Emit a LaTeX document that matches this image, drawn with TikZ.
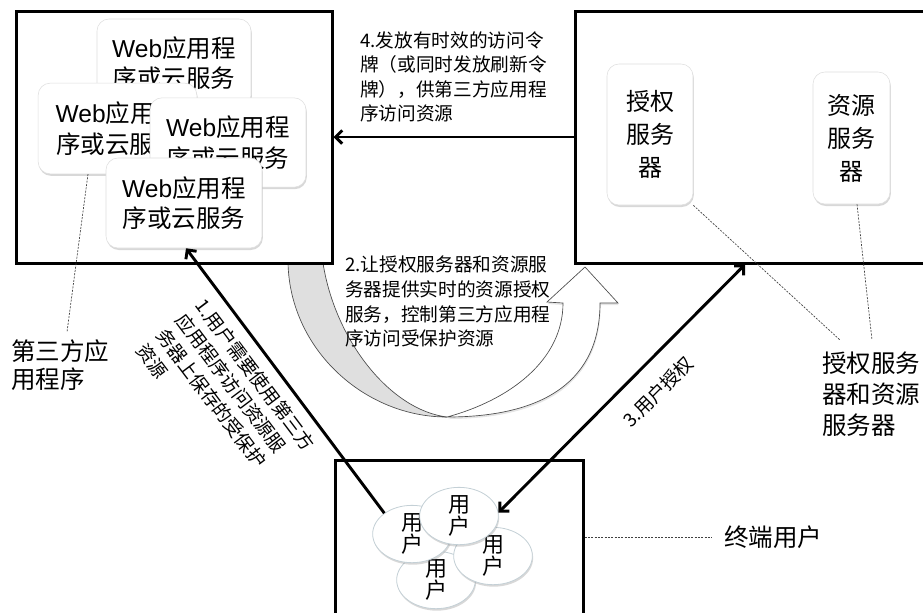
\documentclass[tikz,border=0pt]{standalone}
\usepackage{fontspec}
\setmainfont{Noto Sans CJK SC}
\newfontfamily\lat{Liberation Sans}
\usetikzlibrary{arrows.meta,shadows,shapes.geometric,calc}
\begin{document}
\begin{tikzpicture}[x=0.75pt,y=-0.75pt,
  bigframe/.style={draw, line width=2.25pt, inner sep=0pt},
  webbox/.style={draw=gray!25, fill=white, rounded corners=9pt,
    drop shadow={shadow xshift=0.6pt,shadow yshift=-1.5pt,opacity=0.3},
    align=center, inner sep=0pt, font=\fontsize{18.4pt}{23pt}\selectfont},
  srvbox/.style={webbox, font=\fontsize{18pt}{24.75pt}\selectfont},
  userell/.style={ellipse, draw=cyan!20!gray!45, fill=white, line width=0.6pt,
    drop shadow={shadow xshift=0.6pt,shadow yshift=-1.5pt,opacity=0.3},
    inner sep=0pt, minimum width=59pt, minimum height=43pt},
  utext/.style={align=center, inner sep=0pt, font=\fontsize{16.5pt}{16.5pt}\selectfont},
  arrw/.style={line width=2.2pt, -{Straight Barb[length=5pt,width=10pt]}},
  darrw/.style={line width=2.2pt, {Straight Barb[length=5pt,width=10pt]}-{Straight Barb[length=5pt,width=10pt]}},
  calloutln/.style={draw=black!75, line width=0.5pt, dash pattern=on 1.5pt off 1pt},
  notetxt/.style={align=left, inner sep=0pt, font=\fontsize{14pt}{18.4pt}\selectfont},
  biglbl/.style={align=left, inner sep=0pt, font=\fontsize{18.4pt}{23pt}\selectfont},
]
\useasboundingbox (0,0) rectangle (923,612);
\clip (0,0) rectangle (923,612);
\fill[white] (0,0) rectangle (923,612);

% curved arrow, back (grey) part
\draw[fill=gray!25, draw=black!70, line width=0.5pt]
  (288,263) .. controls (290,350) and (365,417) .. (447,417)
  .. controls (390,410) and (335,340) .. (323,263) -- cycle;

% frames
\node[bigframe, minimum width=237pt, minimum height=189pt] (lbox) at (174,137) {};
\node[bigframe, minimum width=270pt, minimum height=189pt] (rbox) at (755,137) {};
\node[bigframe, minimum width=186pt, minimum height=127.5pt] (bbox) at (459,545) {};

% web app boxes
\node[webbox, minimum width=115.5pt, minimum height=66pt] (w1) at (174,63) {{\lat Web}应用程\\序或云服务};
\node[webbox, minimum width=119pt, minimum height=68pt] (w2) at (117.5,128.5) {{\lat Web}应用程\\序或云服务};
\node[webbox, minimum width=117pt, minimum height=67pt] (w3) at (228,142.5) {{\lat Web}应用程\\序或云服务};
\node[webbox, minimum width=117pt, minimum height=67.5pt] (w4) at (184,203) {{\lat Web}应用程\\序或云服务};

% servers
\node[srvbox, minimum width=64.5pt, minimum height=105.75pt] (as) at (650,134.5) {授权\\服务\\器};
\node[srvbox, minimum width=57.75pt, minimum height=99pt] (rs) at (851.5,138) {资源\\服务\\器};

% curved arrow, front (white) part
\draw[fill=white, draw=black!70, line width=0.5pt,
  drop shadow={shadow xshift=0.5pt,shadow yshift=-1.5pt,opacity=0.2}]
  (447,417) .. controls (545,417) and (600,380) .. (600,303)
  -- (618,303) -- (585,267) -- (547,302) -- (563,303)
  .. controls (563,360) and (510,400) .. (447,417) -- cycle;

% users
\node[userell] (uD) at (436,580) {};
\node[utext] (tD) at (uD) {用\\户};
\node[userell] (uC) at (493,556) {};
\node[utext] (tC) at (uC) {用\\户};
\node[userell] (uA) at (412,534) {};
\node[utext] (tA) at (uA) {用\\户};
\node[userell] (uB) at (459,516) {};
\node[utext] (tB) at (uB) {用\\户};

% arrows
\draw[arrw] (rbox.west) -- (lbox.east);
\draw[arrw] (uA.143) -- (w4.south -| 186,0);
\draw[darrw] (uB.5) -- (rbox.south -| 745,0);

% texts
\node[notetxt, anchor=north west] (t4) at (360,31) {4.发放有时效的访问令\\牌（或同时发放刷新令\\牌），供第三方应用程\\序访问资源};
\node[notetxt, anchor=north west] (t2) at (345,256) {2.让授权服务器和资源服\\务器提供实时的资源授权\\服务，控制第三方应用程\\序访问受保护资源};
\node[notetxt, rotate=-53] (t1) at (226,397) {1.用户需要使用第三方\\应用程序访问资源服\\务器上保存的受保护\\资源};
\node[notetxt, rotate=45] (t3) at (658,392) {3.用户授权};

% labels and callouts
\node[biglbl, anchor=north west, font=\fontsize{18.4pt}{21pt}\selectfont] (l1) at (11,339) {第三方应\\用程序};
\node[biglbl, anchor=north west] (l2) at (822,352) {授权服务\\器和资源\\服务器};
\node[biglbl, anchor=west] (l3) at (724,537) {终端用户};
\coordinate (c1) at (67,332);
\coordinate (c2) at (840,340);
\coordinate (c3) at (872,340);
\coordinate (c4) at (712,537);
\draw[calloutln] (w2.south -| 88,0) -- (c1);
\draw[calloutln] (as.south east) -- (c2);
\draw[calloutln] (rs.south -| 857,0) -- (c3);
\draw[calloutln] (bbox.east |- 0,537) -- (c4);
\end{tikzpicture}
\end{document}
